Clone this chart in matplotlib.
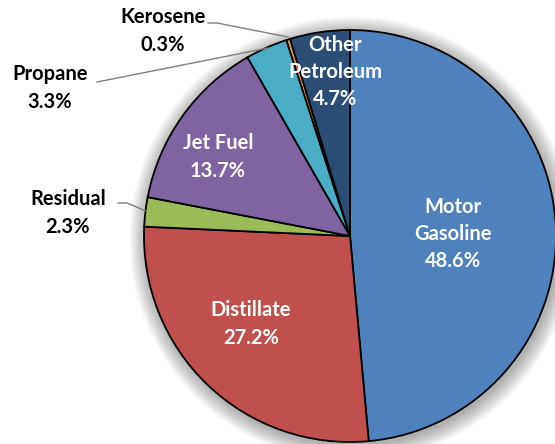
import matplotlib
matplotlib.use('Agg')
import matplotlib.pyplot as plt
from matplotlib.patches import Circle

# data, clockwise from 12 o'clock
labels = ['Motor\nGasoline', 'Distillate', 'Residual', 'Jet Fuel',
          'Propane', 'Kerosene', 'Other\nPetroleum']
shares = [48.6, 27.2, 2.3, 13.7, 3.3, 0.3, 4.7]
colors = ['#4F81BD', '#C0504D', '#9BBB59', '#8064A2',
          '#4BACC6', '#F79646', '#2C4D75']

W, H = 555, 444
cx, cy, r = 350, H - 236, 206

fig = plt.figure(figsize=(5.55, 4.44), dpi=100)
ax = fig.add_axes([0, 0, 1, 1])

# soft shadow
for i in range(14):
    ax.add_patch(Circle((cx + 2, cy - 3), r + 1 + i * 1.2, color='black',
                        alpha=0.022, lw=0, zorder=0))

wedges, _ = ax.pie(shares, colors=colors, startangle=90, counterclock=False,
                   center=(cx, cy), radius=r, frame=True,
                   wedgeprops=dict(edgecolor='black', linewidth=1.3))
ax.set_xlim(0, W)
ax.set_ylim(0, H)
ax.set_aspect('equal')
ax.axis('off')

font = 'Lato'
fs = 14.5

# inside labels (pixel coords from top-left)
pos_in = {0: (453, 234), 1: (251, 324), 3: (218, 157), 6: (335, 72)}
for i, (x, y) in pos_in.items():
    ax.text(x, H - y, '%s\n%.1f%%' % (labels[i], shares[i]), ha='center',
            va='center', color='white', fontsize=fs, fontweight='bold',
            family=font, linespacing=1.45)

# outside labels with leader lines
pos_out = {2: (68, 213), 4: (50, 88), 5: (163, 31)}
lines = {2: [(118, 203), (127, 203), (146, 211)],
         4: [(97, 82), (268, 48)],
         5: [(208, 23), (217, 23), (288, 37)]}
for i, (x, y) in pos_out.items():
    ax.text(x, H - y, '%s\n%.1f%%' % (labels[i], shares[i]), ha='center',
            va='center', color='black', fontsize=fs, fontweight='bold',
            family=font, linespacing=1.45)
    xs = [p[0] for p in lines[i]]
    ys = [H - p[1] for p in lines[i]]
    ax.plot(xs, ys, color='#7f7f7f', lw=1.0)

fig.savefig('out.png', dpi=100, facecolor='white')
